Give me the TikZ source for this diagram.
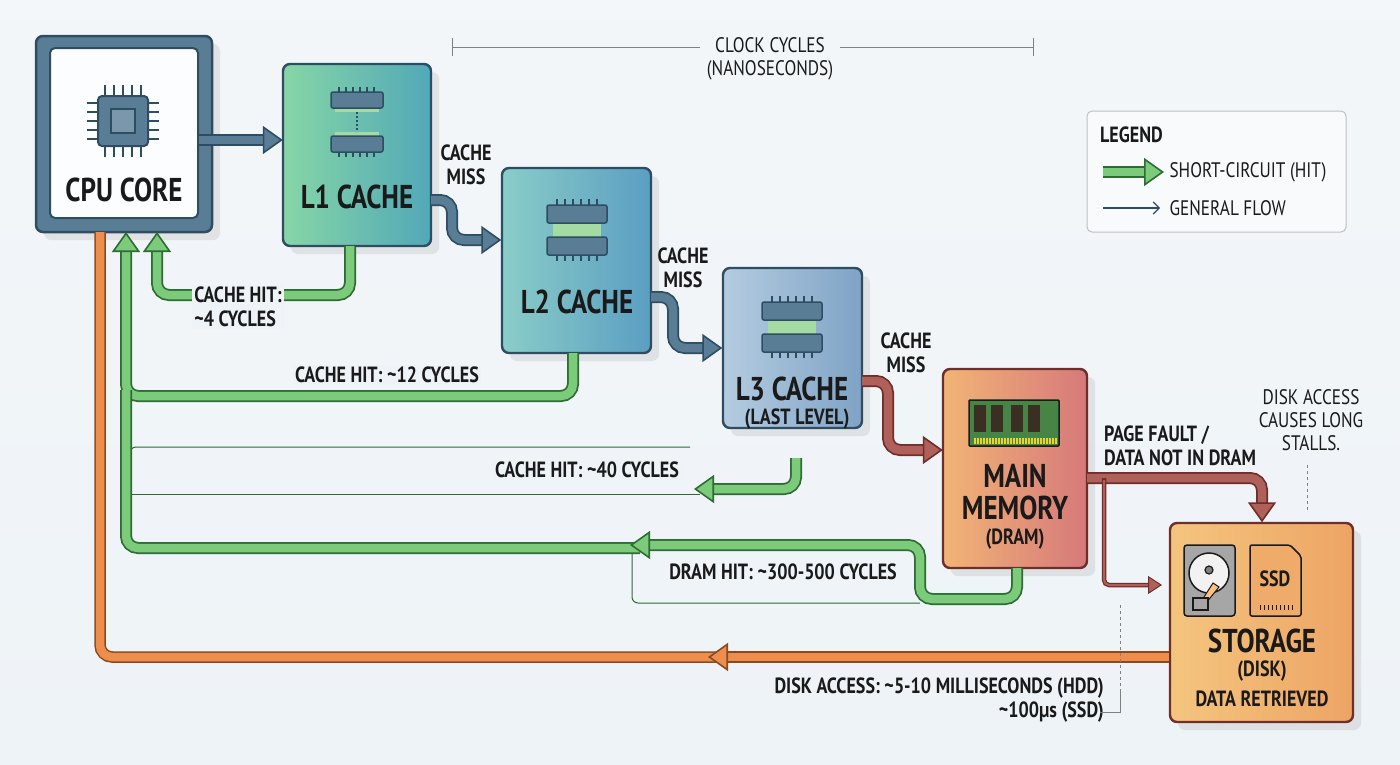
\documentclass[tikz,border=0pt]{standalone}
\usepackage{fontspec}
\setmainfont{PT Sans}[FakeStretch=0.82]
\usetikzlibrary{arrows.meta,calc}
\definecolor{bg}{HTML}{EEF3F7}
\definecolor{bdark}{HTML}{2E4D63}
\definecolor{bfill}{HTML}{5A7D96}
\definecolor{gdark}{HTML}{2F6B35}
\definecolor{gfill}{HTML}{7CCB7A}
\definecolor{rdark}{HTML}{6E2F2A}
\definecolor{rfill}{HTML}{B0605A}
\definecolor{odark}{HTML}{8A4A20}
\definecolor{ofill}{HTML}{EE8E4E}
\definecolor{txt}{HTML}{1A1A1A}
\definecolor{lOneA}{HTML}{86D6A6}\definecolor{lOneB}{HTML}{52A8B8}
\definecolor{lTwoA}{HTML}{8ACDC8}\definecolor{lTwoB}{HTML}{5B9EC2}
\definecolor{lThrA}{HTML}{B4CCE0}\definecolor{lThrB}{HTML}{7FA3C6}
\definecolor{mmA}{HTML}{F2B476}\definecolor{mmB}{HTML}{D6797A}
\definecolor{stA}{HTML}{F4C57E}\definecolor{stB}{HTML}{EDA465}
\tikzset{
  box/.style={draw=bdark,line width=2.4pt,rounded corners=7pt},
  shadowbox/.style={fill=black!25,opacity=0.35,rounded corners=7pt},
  lbl/.style={font=\bfseries\fontsize{22}{24}\selectfont,text=txt,align=center,inner sep=2pt},
  sub/.style={font=\bfseries\fontsize{22}{24}\selectfont,text=txt,align=center,inner sep=0pt},
  title/.style={font=\bfseries\fontsize{33}{35}\selectfont,text=txt,align=center,inner sep=0pt},
  small/.style={font=\fontsize{21}{23}\selectfont,text=txt,align=center},
  pipe/.style n args={3}{line width=8.5pt,draw=#2,rounded corners=12pt,
     preaction={draw=#1,line width=12pt,arrows=-,shorten >=14pt},
     -{Triangle[width=28pt,length=20pt,fill=#2,color=#1,line width=1.6pt]}},
  hit/.style={pipe={gdark}{gfill}{}},
  flow/.style={pipe={bdark}{bfill}{}},
  red/.style={pipe={rdark}{rfill}{}},
  orng/.style={pipe={odark}{ofill}{}},
  thin/.style={draw=gdark,line width=1pt,rounded corners=6pt},
}
\newcommand{\memchip}[2]{%
  \begin{scope}[shift={(#1,#2)}]
    \fill[gfill!70] (-24,-7) rectangle (24,7);
    \draw[bdark,fill=bfill,line width=1.5pt,rounded corners=2pt] (-30,-25) rectangle (30,-7);
    \draw[bdark,fill=bfill,line width=1.5pt,rounded corners=2pt] (-30,7) rectangle (30,25);
    \foreach \i in {-20,-12,...,20}{\draw[bdark,line width=1.5pt] (\i,-25)--(\i,-31); \draw[bdark,line width=1.5pt] (\i,25)--(\i,31);}
  \end{scope}}
\begin{document}
\begin{tikzpicture}[x=1pt,y=-1pt]
\useasboundingbox (0,0) rectangle (1400,764);
\shade[top color=bg!70!white,bottom color=bg] (0,0) rectangle (1400,764);

% clock cycles bracket
\draw[gray,line width=0.8pt] (452,38)--(452,56) (452,47)--(700,47) (840,47)--(1033,47) (1033,38)--(1033,56);
\node[small] (clk) at (770,59) {CLOCK CYCLES\\(NANOSECONDS)};

% shadows
\foreach \a/\b/\c/\d in {36/36/212/232,283/64/431/246,502/168/651/353,723/268/862/428,943/369/1087/568,1170/523/1353/722}
  \fill[shadowbox] (\a+8,\b+8) rectangle (\c+8,\d+8);

% CPU
\draw[box,fill=bfill,line width=2.5pt] (36,36) rectangle (212,232);
\node[draw=bdark,line width=2pt,fill=white!85!bg,rounded corners=5pt,minimum width=148pt,minimum height=170pt] (cpu) at (124,133) {};
\node[title] at (124,190) {CPU CORE};
\draw[bdark,fill=bfill,line width=2pt,rounded corners=4pt] (98,96) rectangle (148,146);
\draw[bdark,fill=bfill!80!white,line width=1.5pt] (111,109) rectangle (135,133);
\foreach \i in {105,114,123,132,141}{\draw[bdark,line width=2.2pt] (\i,96)--(\i,85) (\i,146)--(\i,157);}
\foreach \j in {103,112,121,130,139}{\draw[bdark,line width=2.2pt] (98,\j)--(87,\j) (148,\j)--(159,\j);}

% L1
\draw[box,left color=lOneA,right color=lOneB] (283,64) rectangle (431,246);
\node (l1) at (357,155) [minimum width=148pt,minimum height=182pt] {};
\node[title] at (357,197) {L1 CACHE};
\begin{scope}[shift={(357,122)}]
  \fill[gfill!70] (-22,-18) rectangle (22,-10); \fill[gfill!70] (-22,10) rectangle (22,18);
  \draw[bdark,fill=bfill,line width=1.5pt,rounded corners=2pt] (-26,-30) rectangle (26,-14);
  \draw[bdark,fill=bfill,line width=1.5pt,rounded corners=2pt] (-26,14) rectangle (26,30);
  \foreach \i in {-18,-11,...,18}{\draw[bdark,line width=1.5pt] (\i,-30)--(\i,-35) (\i,30)--(\i,35);}
  \draw[bdark,dotted,line width=2pt] (0,-10)--(0,10);
\end{scope}

% L2
\draw[box,left color=lTwoA,right color=lTwoB] (502,168) rectangle (651,353);
\node (l2) at (576,260) [minimum width=149pt,minimum height=185pt] {};
\node[title] at (577,302) {L2 CACHE};
\memchip{577}{230}

% L3
\draw[box,left color=lThrA,right color=lThrB] (723,268) rectangle (862,428);
\node (l3) at (792,348) [minimum width=139pt,minimum height=160pt] {};
\node[title] at (792,389) {L3 CACHE};
\node[sub] at (797,419) {(LAST LEVEL)};
\memchip{792}{327}

% Main memory
\draw[draw=rdark,line width=2.4pt,rounded corners=7pt,left color=mmA,right color=mmB] (943,369) rectangle (1087,568);
\node (mm) at (1015,468) [minimum width=144pt,minimum height=199pt] {};
\node[title,font=\bfseries\fontsize{33}{32}\selectfont] at (1015,492) {MAIN\\MEMORY};
\node[sub] at (1015,539) {(DRAM)};
\draw[txt,fill=green!30!gray!80!black,line width=1.5pt,rounded corners=1pt] (969,400) rectangle (1059,446);
\foreach \x in {974,991,1011,1028}{\fill[txt!80!brown] (\x,405) rectangle (\x+12,432);}
\foreach \x in {974,977,...,1055}{\fill[yellow!70!brown] (\x,438) rectangle (\x+1.5,444);}

% Storage
\draw[draw=rdark,line width=2.4pt,rounded corners=7pt,left color=stA,right color=stB] (1170,523) rectangle (1353,722);
\node (st) at (1261,622) [minimum width=183pt,minimum height=199pt] {};
\node[title] at (1262,641) {STORAGE};
\node[sub] at (1262,671) {(DISK)};
\node[sub] at (1262,699) {DATA RETRIEVED};
% HDD
\draw[txt,fill=gray!70,line width=1.5pt,rounded corners=3pt] (1184,545) rectangle (1235,616);
\draw[txt,fill=white!90!gray,line width=1.5pt] (1209,573) circle (20);
\draw[txt,fill=gray,line width=1.2pt] (1209,570) circle (4);
\draw[txt,fill=orange!50,line width=1pt] (1213,583)--(1219,587)--(1206,603)--(1202,600)--cycle;
\draw[txt,fill=gray!70,line width=1.2pt] (1193,598) rectangle (1208,610);
% SSD
\draw[txt,fill=stB!80!stA,line width=1.5pt,rounded corners=2pt] (1250,545)--(1290,545)--(1301,556)--(1301,616)--(1250,616)--cycle;
\node[sub] at (1275,579) {SSD};
\foreach \x in {1260,1264,...,1292}{\draw[txt,line width=1pt] (\x,605)--(\x,610);}

% forward flow
\draw[flow] (cpu.east|-0,140) -- (l1.west|-0,140);
\draw[flow] (431,200) -- (452,200) -- (452,240) -- (l2.west|-0,240);
\node[lbl] (m1) at (466,165) {CACHE\\MISS};
\draw[flow] (651,297) -- (673,297) -- (673,348) -- (l3.west|-0,348);
\node[lbl] (m2) at (683,268) {CACHE\\MISS};
\draw[red] (862,381) -- (888,381) -- (888,450) -- (mm.west|-0,450);
\node[lbl] (m3) at (906,353) {CACHE\\MISS};
\draw[red] (1087,478) -- (1262,478) -- (st.north-|1262,0);
\node[lbl,align=left,anchor=west] (pf) at (1102,446) {PAGE FAULT /\\DATA NOT IN DRAM};
\draw[draw=rdark,line width=4.5pt,rounded corners=5pt] (1104,478) -- (1104,585) -- (1148,585);
\draw[draw=rfill,line width=2pt,rounded corners=5pt,-{Triangle[width=18pt,length=14pt,fill=rfill,color=rdark,line width=1pt]}] (1104,480) -- (1104,585) -- (1162,585);

% thin outlines of return paths
\draw[thin] (690,447) -- (130,447) -- (130,540);
\draw[thin] (700,494) -- (130,494);
\draw[thin] (632,553) -- (632,603) -- (920,603);

% green returns
\draw[hit] (350,246) -- (350,295) -- (157,295) -- (157,232);
\node[lbl,align=left,fill=bg] (h1) at (238,307) {CACHE HIT:\\\textasciitilde4 CYCLES};
\draw[hit] (573,353) -- (573,396) -- (126,396) -- (126,232);
\node[lbl,fill=bg] (h2) at (387,375) {CACHE HIT: \textasciitilde12 CYCLES};
\draw[hit] (796,458) -- (796,489) -- (694,489);
\node[lbl,fill=bg] (h3) at (587,470) {CACHE HIT: \textasciitilde40 CYCLES};
\draw[line width=8.5pt,draw=gfill,rounded corners=12pt,preaction={draw=gdark,line width=12pt}] (640,548) -- (126,548) -- (126,390);
\draw[hit] (1017,568) -- (1017,599) -- (920,599) -- (920,545) -- (630,545);
\node[lbl] (h4) at (783,572) {DRAM HIT: \textasciitilde300-500 CYCLES};

% orange disk access
\draw[line width=8.5pt,draw=ofill,rounded corners=12pt,preaction={draw=odark,line width=11.5pt}] (720,657) -- (100,657) -- (100,232);
\draw[orng] (st.west|-0,657) -- (708,657);
\node[lbl,align=right,anchor=east] (da) at (1106,700) {DISK ACCESS: \textasciitilde5-10 MILLISECONDS (HDD)\\\textasciitilde100μs (SSD)};
\draw[gray,dashed,line width=0.8pt] (1120,605) -- (1120,690);
\draw[gray,line width=0.8pt] (1120,690) -- (1120,712) -- (1100,712);

% note
\node[small] (note) at (1311,420) {DISK ACCESS\\CAUSES LONG\\STALLS.};
\draw[gray,dashed,line width=0.8pt] (1307,465) -- (1307,510);

% legend
\draw[draw=gray!50,fill=white!60!bg,rounded corners=5pt,line width=1pt] (1087,111) rectangle (1346,232);
\node[lbl,anchor=west] (lg) at (1098,135) {LEGEND};
\coordinate (la) at (1103,172); \coordinate (lb) at (1164,172);
\draw[hit] (la) -- (lb);
\node[small,anchor=west] (lt1) at (1166,172) {SHORT-CIRCUIT (HIT)};
\coordinate (lc) at (1103,208); \coordinate (ld) at (1160,208);
\draw[bdark,line width=1.2pt,-{Straight Barb[length=6pt,width=12pt]}] (lc) -- (ld);
\node[small,anchor=west] (lt2) at (1166,208) {GENERAL FLOW};
\end{tikzpicture}
\end{document}
